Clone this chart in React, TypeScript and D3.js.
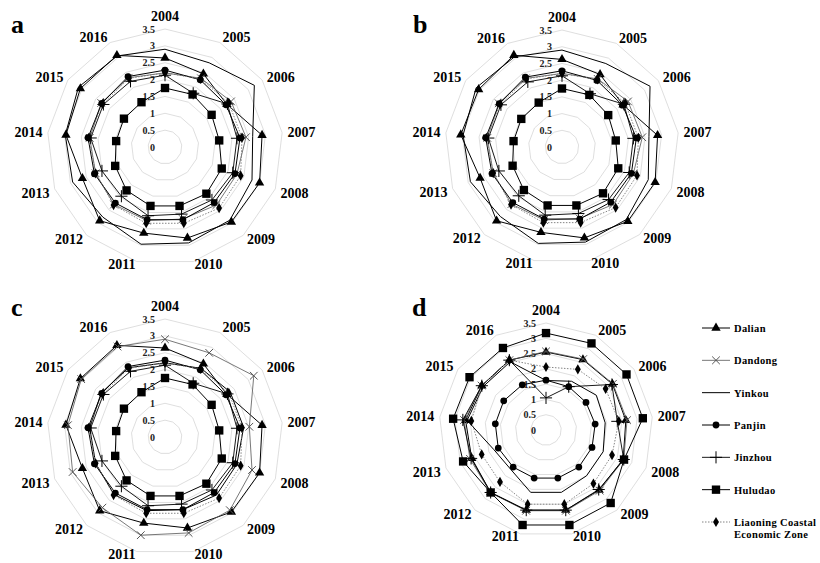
import React from 'react';
import * as d3 from 'd3';

const years = ['2004', '2005', '2006', '2007', '2008', '2009', '2010', '2011', '2012', '2013', '2014', '2015', '2016'];
const ticks = [0, 0.5, 1, 1.5, 2, 2.5, 3, 3.5];
const seriesNames = ['Dalian', 'Dandong', 'Yinkou', 'Panjin', 'Jinzhou', 'Huludao', 'Liaoning Coastal Economic Zone'];

// panel a
const aDalian = [2.64, 2.45, 2.23, 2.9, 3.0, 2.97, 2.78, 2.63, 2.92, 2.62, 2.96, 3.05, 3.07];
const aDandong = [2.2, 2.3, 2.38, 2.42, 2.28, 2.3, 2.2, 2.25, 2.28, 2.2, 2.25, 2.3, 2.32];
const aYinkou = [2.9, 2.82, 3.22, 2.62, 2.76, 2.9, 2.93, 2.97, 2.78, 2.93, 2.98, 3.12, 3.05];
const aPanjin = [2.28, 2.25, 2.2, 2.24, 2.22, 2.2, 2.22, 2.22, 2.22, 2.24, 2.3, 2.28, 2.36];
const aJinzhou = [2.13, 1.8, 2.25, 2.15, 2.15, 2.1, 2.05, 2.1, 1.95, 2.0, 2.22, 2.22, 2.2];
const aHuludao = [1.75, 1.76, 1.68, 1.62, 1.8, 1.85, 1.8, 1.8, 1.72, 1.58, 1.46, 1.48, 1.5];
const aLCEZ = [2.2, 2.28, 2.3, 2.3, 2.4, 2.42, 2.33, 2.33, 2.3, 2.2, 2.28, 2.25, 2.3];

// panel b
const bDalian = [2.62, 2.45, 2.22, 2.88, 2.98, 2.97, 2.8, 2.63, 2.95, 2.62, 3.05, 3.03, 3.1];
const bDandong = [2.2, 2.3, 2.4, 2.42, 2.28, 2.3, 2.2, 2.25, 2.28, 2.2, 2.25, 2.3, 2.32];
const bYinkou = [2.9, 2.82, 3.2, 2.62, 2.76, 2.9, 2.93, 2.97, 2.78, 2.93, 2.98, 3.12, 3.05];
const bPanjin = [2.28, 2.25, 2.2, 2.24, 2.22, 2.2, 2.22, 2.22, 2.22, 2.24, 2.3, 2.28, 2.36];
const bJinzhou = [2.13, 1.8, 2.25, 2.15, 2.15, 2.1, 2.05, 2.1, 1.95, 2.02, 2.22, 2.22, 2.2];
const bHuludao = [1.75, 1.76, 1.68, 1.62, 1.8, 1.85, 1.8, 1.8, 1.72, 1.58, 1.46, 1.48, 1.5];
const bLCEZ = [2.2, 2.28, 2.3, 2.3, 2.4, 2.42, 2.33, 2.33, 2.3, 2.2, 2.28, 2.25, 2.3];

// panel c
const cDalian = [2.64, 2.45, 2.23, 2.9, 3.0, 2.97, 2.78, 2.63, 2.92, 2.62, 2.96, 3.05, 3.07];
const cDandong = [2.9, 2.82, 3.2, 2.52, 2.76, 2.9, 2.93, 3.0, 2.8, 2.93, 2.9, 3.02, 3.03];
const cYinkou = [2.2, 2.3, 2.35, 2.35, 2.28, 2.3, 2.22, 2.25, 2.28, 2.2, 2.25, 2.3, 2.32];
const cPanjin = [2.28, 2.25, 2.2, 2.24, 2.22, 2.2, 2.22, 2.22, 2.22, 2.24, 2.3, 2.28, 2.36];
const cJinzhou = [2.13, 1.8, 2.25, 2.15, 2.15, 2.1, 2.05, 2.1, 1.95, 2.0, 2.22, 2.22, 2.2];
const cHuludao = [1.75, 1.76, 1.68, 1.62, 1.8, 1.85, 1.8, 1.8, 1.72, 1.58, 1.46, 1.48, 1.5];
const cLCEZ = [2.2, 2.28, 2.3, 2.3, 2.4, 2.42, 2.33, 2.33, 2.3, 2.2, 2.28, 2.25, 2.3];

// panel d
const dDalian = [2.55, 2.6, 2.64, 2.63, 2.7, 2.62, 2.7, 2.7, 2.73, 2.6, 2.65, 2.55, 2.58];
const dDandong = [2.57, 2.62, 2.66, 2.67, 2.72, 2.65, 2.72, 2.72, 2.74, 2.66, 2.7, 2.56, 2.58];
const dYinkou = [1.62, 1.8, 2.0, 1.95, 2.0, 2.0, 2.1, 2.1, 1.73, 1.82, 2.6, 2.5, 2.52];
const dPanjin = [1.63, 1.6, 1.59, 1.62, 1.61, 1.62, 1.62, 1.62, 1.62, 1.67, 1.67, 1.68, 1.67];
const dJinzhou = [1.05, 1.6, 2.62, 2.35, 2.72, 2.6, 2.7, 2.7, 2.73, 2.62, 2.74, 2.55, 2.58];
const dHuludao = [3.17, 3.2, 3.2, 3.19, 2.73, 3.19, 3.2, 3.2, 2.73, 2.9, 3.06, 3.04, 3.03];
const dLCEZ = [2.06, 2.24, 2.37, 2.4, 2.31, 2.34, 2.5, 2.5, 2.27, 2.25, 2.46, 2.55, 2.58];

const panelData = [
  [aDalian, aDandong, aYinkou, aPanjin, aJinzhou, aHuludao, aLCEZ],
  [bDalian, bDandong, bYinkou, bPanjin, bJinzhou, bHuludao, bLCEZ],
  [cDalian, cDandong, cYinkou, cPanjin, cJinzhou, cHuludao, cLCEZ],
  [dDalian, dDandong, dYinkou, dPanjin, dJinzhou, dHuludao, dLCEZ],
];

const panels = [
  { key: 'a', cx: 165, cy: 147, r: 118, lx: 11, ly: 33 },
  { key: 'b', cx: 562, cy: 147, r: 117, lx: 413, ly: 33 },
  { key: 'c', cx: 165, cy: 437, r: 118, lx: 11, ly: 316 },
  { key: 'd', cx: 546, cy: 430, r: 107, lx: 412, ly: 316 },
];

const FONT = "'Liberation Serif', 'Times New Roman', serif";

type Style = {
  stroke: string;
  width: number;
  dash?: string;
  symbol: d3.SymbolType | null;
  size: number;
  filled: boolean;
};

const styles: Style[] = [
  { stroke: '#000', width: 1, symbol: d3.symbolTriangle, size: 38, filled: true },
  { stroke: '#555', width: 0.8, symbol: d3.symbolTimes, size: 40, filled: false },
  { stroke: '#000', width: 1, symbol: null, size: 0, filled: true },
  { stroke: '#000', width: 1, symbol: d3.symbolCircle, size: 36, filled: true },
  { stroke: '#000', width: 0.9, symbol: d3.symbolPlus, size: 50, filled: false },
  { stroke: '#000', width: 1, symbol: d3.symbolSquare, size: 70, filled: true },
  { stroke: '#777', width: 0.9, dash: '1.5,1.5', symbol: d3.symbolDiamond, size: 30, filled: true },
];

const Marker: React.FC<{ st: Style; x: number; y: number }> = ({ st, x, y }) => {
  if (!st.symbol) return null;
  const d = d3.symbol(st.symbol, st.size)() || '';
  return (
    <path
      d={d}
      transform={`translate(${x},${y})`}
      fill={st.filled ? '#000' : 'none'}
      stroke={st.filled ? 'none' : st.stroke}
      strokeWidth={st.filled ? 0 : 1}
    />
  );
};

const Radar: React.FC<{ p: typeof panels[0]; data: number[][] }> = ({ p, data }) => {
  const n = years.length;
  const rScale = d3.scaleLinear().domain([0, 3.5]).range([0, p.r]);
  const aScale = d3.scaleLinear().domain([0, n]).range([0, 2 * Math.PI]);
  const radial = d3
    .lineRadial<number>()
    .angle((_, i) => aScale(i))
    .radius((v) => rScale(v))
    .curve(d3.curveLinearClosed);
  const pt = (i: number, v: number): [number, number] => {
    const a = aScale(i);
    return [Math.sin(a) * rScale(v), -Math.cos(a) * rScale(v)];
  };

  return (
    <g>
      <text x={p.lx} y={p.ly} fontFamily={FONT} fontWeight="bold" fontSize={26}>
        {p.key}
      </text>
      <g transform={`translate(${p.cx},${p.cy})`}>
        {ticks.slice(1).map((t) => (
          <path key={t} d={radial(years.map(() => t)) || ''} fill="none" stroke="#d6d6d6" strokeWidth={0.8} />
        ))}
        {ticks.map((t) => (
          <text
            key={t}
            x={-10}
            y={-rScale(t) + 3.5}
            textAnchor="end"
            fontFamily={FONT}
            fontSize={10}
            fontWeight="bold"
            fill="#222"
          >
            {t}
          </text>
        ))}
        {years.map((y, i) => {
          const a = aScale(i);
          const s = Math.sin(a);
          const c = Math.cos(a);
          const vx = s * p.r;
          const vy = -c * p.r;
          if (Math.abs(s) < 0.1) {
            return (
              <text key={y} x={vx} y={vy - 8} textAnchor="middle" fontFamily={FONT} fontWeight="bold" fontSize={14}>
                {y}
              </text>
            );
          }
          const gap = 5.5 * Math.abs(s);
          const dy = c > 0 ? -5.5 * c : Math.min(4, 10 * Math.abs(s));
          return (
            <text
              key={y}
              x={vx + (s > 0 ? gap : -gap)}
              y={vy + dy + 4.8}
              textAnchor={s > 0 ? 'start' : 'end'}
              fontFamily={FONT}
              fontWeight="bold"
              fontSize={14}
            >
              {y}
            </text>
          );
        })}
        {data.map((vals, si) => {
          const st = styles[si];
          return (
            <g key={seriesNames[si]}>
              <path d={radial(vals) || ''} fill="none" stroke={st.stroke} strokeWidth={st.width} strokeDasharray={st.dash} />
              {vals.map((v, i) => {
                const [x, y] = pt(i, v);
                return <Marker key={i} st={st} x={x} y={y} />;
              })}
            </g>
          );
        })}
      </g>
    </g>
  );
};

const Legend: React.FC = () => {
  const yScale = d3.scaleLinear().domain([0, seriesNames.length - 1]).range([328, 522]);
  return (
    <g>
      {seriesNames.map((name, i) => {
        const st = styles[i];
        const y = yScale(i);
        const lines = i === seriesNames.length - 1 ? ['Liaoning Coastal', 'Economic Zone'] : [name];
        return (
          <g key={name}>
            <line x1={702} x2={730} y1={y} y2={y} stroke={st.stroke} strokeWidth={st.width} strokeDasharray={st.dash} />
            <Marker st={st} x={716} y={y} />
            {lines.map((l, k) => (
              <text
                key={l}
                x={734}
                y={y + 4 + k * 12}
                fontFamily={FONT}
                fontWeight="bold"
                fontSize={10.5}
                letterSpacing={0.35}
              >
                {l}
              </text>
            ))}
          </g>
        );
      })}
    </g>
  );
};

const App: React.FC = () => (
  <div style={{ position: 'absolute', left: 0, top: 0 }}>
    <svg width={820} height={563} style={{ display: 'block', background: '#fff' }}>
      {panels.map((p, i) => (
        <Radar key={p.key} p={p} data={panelData[i]} />
      ))}
      <Legend />
    </svg>
  </div>
);

export default App;
